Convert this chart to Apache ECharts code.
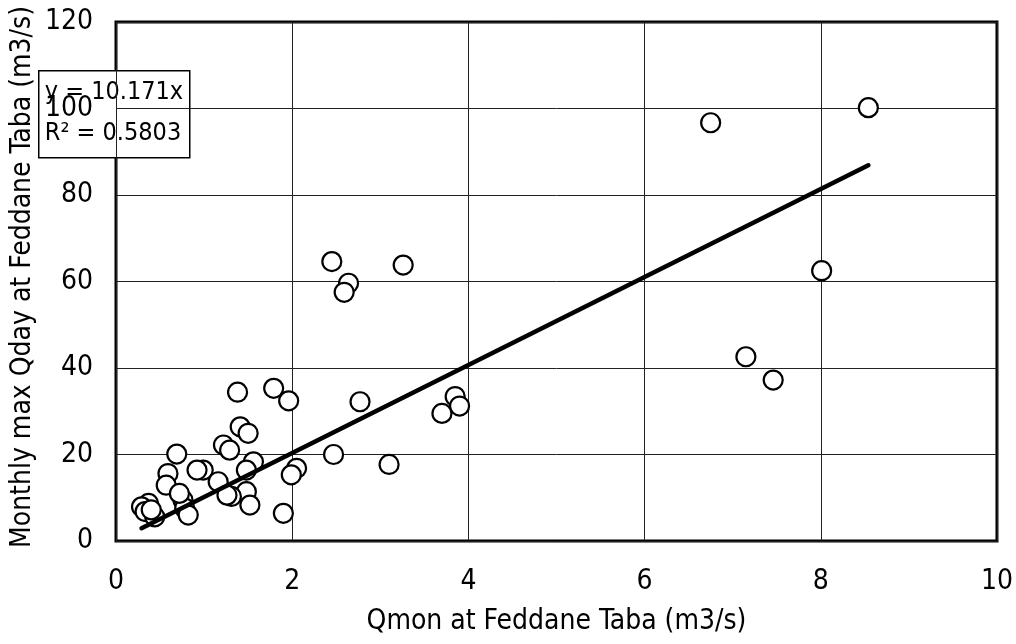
<!DOCTYPE html>
<html>
<head>
<meta charset="utf-8">
<script src="https://cdn.jsdelivr.net/npm/echarts@6/dist/echarts.min.js"></script>
<style>
  html, body { margin: 0; padding: 0; background: #fff; }
  #chart { width: 1016px; height: 644px; }
</style>
</head>
<body>
<div id="chart"></div>
<script>
// Monthly mean discharge (Qmon) vs. monthly maximum daily discharge (Qday), m3/s
const qmon = [8.54, 6.75, 8.01, 7.15, 7.46,
  2.45, 3.26, 2.64, 2.59,
  1.38, 1.79, 1.96, 2.77, 3.85, 3.90, 3.70,
  1.41, 1.50, 1.22, 1.29, 0.69, 2.47,
  3.10, 1.56, 2.05, 1.99, 1.48, 0.99, 0.92,
  0.59, 0.57, 1.16, 1.48, 1.31, 1.26, 1.52, 1.90,
  0.76, 0.78, 0.82, 0.72, 0.37, 0.29, 0.33, 0.44, 0.40];
const qdayMax = [100.2, 96.7, 62.5, 42.6, 37.2,
  64.6, 63.8, 59.6, 57.5,
  34.4, 35.3, 32.4, 32.2, 33.4, 31.2, 29.5,
  26.4, 24.9, 22.2, 21.0, 20.1, 20.0,
  17.7, 18.3, 16.8, 15.3, 16.4, 16.4, 16.4,
  15.6, 12.9, 13.7, 11.4, 10.3, 10.6, 8.3, 6.4,
  9.5, 7.6, 6.0, 11.0, 8.7, 7.9, 6.8, 5.6, 7.2];

// Linear fit through the origin
const slope = 10.171;
const r2 = 0.5803;

const xTicks = { min: 0, max: 10, interval: 2 };
const yTicks = { min: 0, max: 120, interval: 20 };

const xTitle = 'Qmon at Feddane Taba (m3/s)';
const yTitle = 'Monthly max Qday at Feddane Taba (m3/s)';

const points = qmon.map((x, i) => [x, qdayMax[i]]);
const xLo = Math.min(...qmon), xHi = Math.max(...qmon);
const fitLine = [[xLo, slope * xLo], [xHi, slope * xHi]];

const FONT = 'DejaVu Sans Condensed';

const chart = echarts.init(document.getElementById('chart'), null, { renderer: 'canvas' });
chart.setOption({
  animation: false,
  backgroundColor: '#fff',
  grid: {
    left: 116, right: 18, top: 22, bottom: 103,
    show: true, borderColor: '#000', borderWidth: 3, backgroundColor: 'transparent'
  },
  xAxis: {
    type: 'value', min: xTicks.min, max: xTicks.max, interval: xTicks.interval,
    axisLine: { show: false }, axisTick: { show: false },
    splitLine: { show: true, lineStyle: { color: '#222', width: 1 } },
    axisLabel: { color: '#000', fontFamily: FONT, fontSize: 28, margin: 27 },
    name: xTitle, nameLocation: 'middle', nameGap: 67,
    nameTextStyle: { color: '#000', fontFamily: FONT, fontSize: 28 }
  },
  yAxis: [{
    type: 'value', min: yTicks.min, max: yTicks.max, interval: yTicks.interval,
    z: 0,
    axisLine: { show: false }, axisTick: { show: false },
    splitLine: { show: true, lineStyle: { color: '#222', width: 1 } },
    axisLabel: { show: false }
  }, {
    // label-only axis, drawn above the equation box
    type: 'value', min: yTicks.min, max: yTicks.max, interval: yTicks.interval,
    position: 'left', z: 10,
    axisLine: { show: false }, axisTick: { show: false }, splitLine: { show: false },
    axisLabel: { color: '#000', fontFamily: FONT, fontSize: 28, margin: 23 }
  }],
  graphic: [{
    type: 'text', x: 23, y: 277, rotation: Math.PI / 2, z: 10,
    style: {
      text: yTitle, fill: '#000', font: '28px "' + FONT + '"',
      align: 'center', verticalAlign: 'middle'
    }
  }, {
    type: 'group', left: 38, top: 70, z: 5,
    children: [{
      type: 'rect', shape: { x: 0, y: 0, width: 151, height: 87 },
      style: { fill: '#fff', stroke: '#000', lineWidth: 1.5 }
    }, {
      type: 'text', left: 6, top: 9,
      style: { text: 'y = ' + slope.toFixed(3) + 'x', fill: '#000', font: '25px "' + FONT + '"' }
    }, {
      type: 'text', left: 6, top: 50,
      style: { text: 'R\u00B2 = ' + r2.toFixed(4), fill: '#000', font: '25px "' + FONT + '"' }
    }]
  }],
  series: [{
    type: 'scatter', yAxisIndex: 0, data: points,
    symbol: 'circle', symbolSize: 19,
    itemStyle: { color: '#fff', borderColor: '#000', borderWidth: 2.2, opacity: 1 },
    z: 3
  }, {
    type: 'line', yAxisIndex: 0, data: fitLine,
    showSymbol: false, symbol: 'none',
    lineStyle: { color: '#000', width: 4.5, cap: 'round' },
    z: 4
  }]
});
</script>
</body>
</html>
